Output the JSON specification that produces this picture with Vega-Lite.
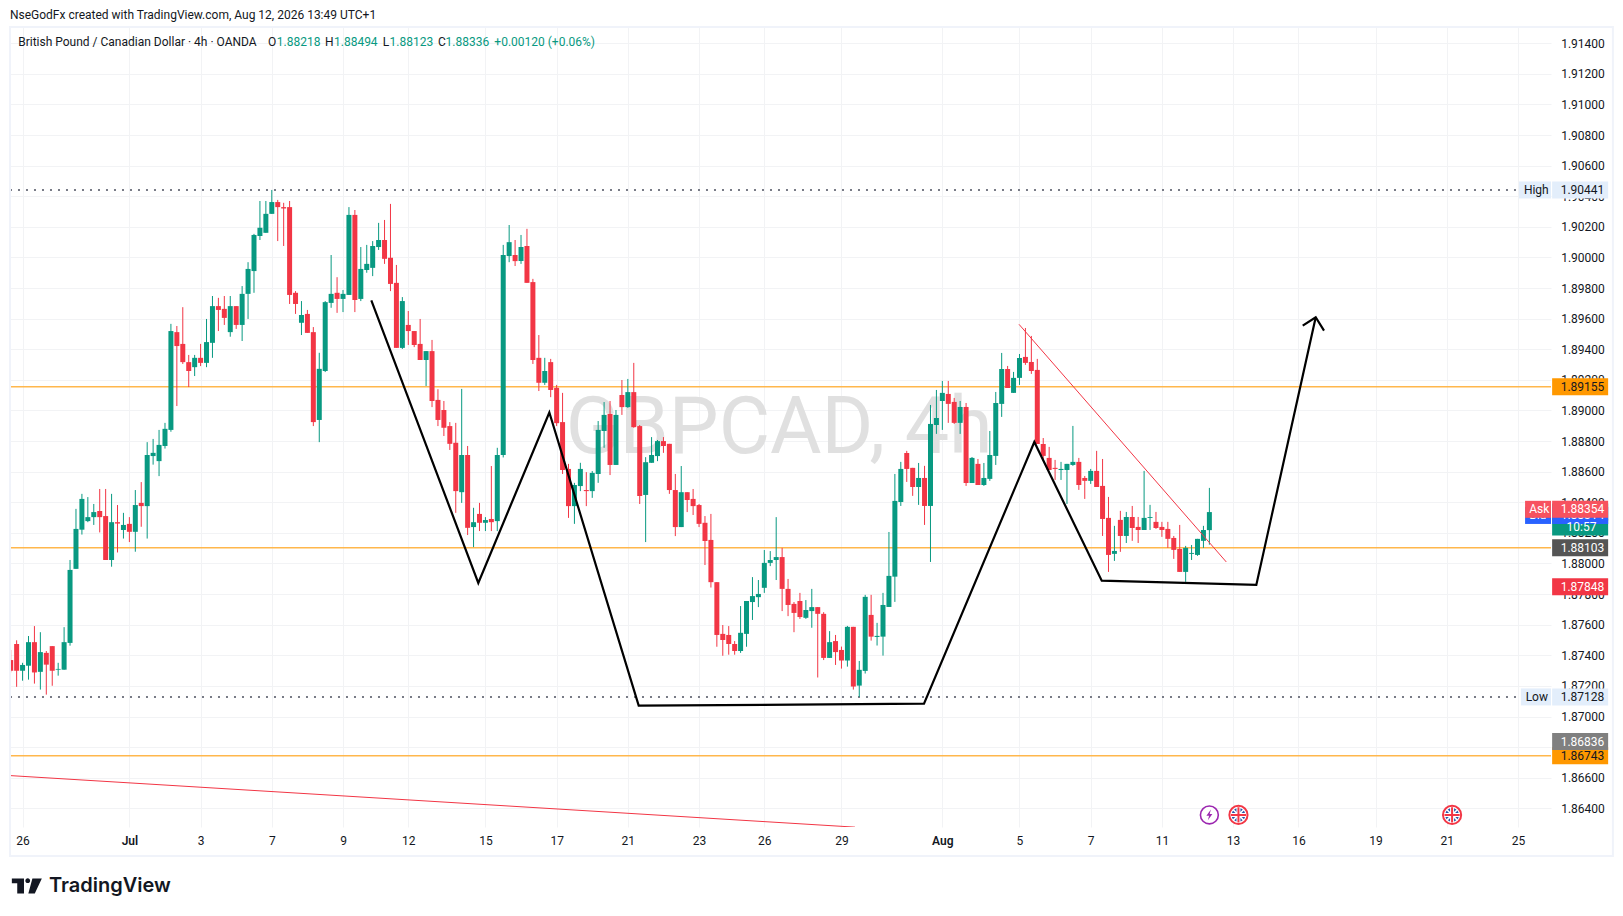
{"$schema":"https://vega.github.io/schema/vega-lite/v6.json","width":1541,"height":800,"autosize":"none","padding":{"left":10,"top":27,"right":72,"bottom":89},"background":"#ffffff","view":{"stroke":null},
"config":{"font":"Roboto","text":{"font":"Roboto"}},
"datasets":{
"candles":[
{"i":1,"o":1.87369,"h":1.87435,"l":1.87288,"c":1.87299},{"i":2,"o":1.87474,"h":1.87498,"l":1.87194,"c":1.87299},{"i":3,"o":1.87299,"h":1.87351,"l":1.87234,"c":1.87337},{"i":4,"o":1.87332,"h":1.87526,"l":1.87241,"c":1.87486},{"i":5,"o":1.87486,"h":1.87591,"l":1.87215,"c":1.87288},{"i":6,"o":1.87292,"h":1.87551,"l":1.87176,"c":1.87421},{"i":7,"o":1.87416,"h":1.87428,"l":1.87143,"c":1.87339},{"i":8,"o":1.8746,"h":1.8746,"l":1.87201,"c":1.87299},{"i":9,"o":1.87306,"h":1.87351,"l":1.87267,"c":1.87311},{"i":10,"o":1.87306,"h":1.87584,"l":1.87306,"c":1.87486},
{"i":11,"o":1.87481,"h":1.88023,"l":1.87463,"c":1.87958},{"i":12,"o":1.87965,"h":1.88357,"l":1.87965,"c":1.88226},{"i":13,"o":1.88221,"h":1.88455,"l":1.88189,"c":1.88422},{"i":14,"o":1.88277,"h":1.88434,"l":1.8827,"c":1.88303},{"i":15,"o":1.88303,"h":1.88389,"l":1.88252,"c":1.88336},{"i":16,"o":1.88343,"h":1.88487,"l":1.88203,"c":1.88303},{"i":17,"o":1.8831,"h":1.88487,"l":1.88023,"c":1.88023},{"i":18,"o":1.88023,"h":1.88455,"l":1.87979,"c":1.8827},{"i":19,"o":1.8827,"h":1.88382,"l":1.88072,"c":1.88261},{"i":20,"o":1.88219,"h":1.88331,"l":1.88163,"c":1.88252},
{"i":21,"o":1.88259,"h":1.88303,"l":1.8814,"c":1.88207},{"i":22,"o":1.88207,"h":1.8848,"l":1.88077,"c":1.88382},{"i":23,"o":1.88396,"h":1.88532,"l":1.8824,"c":1.88375},{"i":24,"o":1.88375,"h":1.88793,"l":1.88163,"c":1.88709},{"i":25,"o":1.88702,"h":1.88814,"l":1.88646,"c":1.88723},{"i":26,"o":1.88669,"h":1.88873,"l":1.88571,"c":1.88775},{"i":27,"o":1.88768,"h":1.88919,"l":1.88751,"c":1.8888},{"i":28,"o":1.88873,"h":1.89566,"l":1.88861,"c":1.89519},{"i":29,"o":1.89512,"h":1.89552,"l":1.89029,"c":1.89421},{"i":30,"o":1.89435,"h":1.89675,"l":1.89304,"c":1.89316},
{"i":31,"o":1.89316,"h":1.89363,"l":1.89153,"c":1.89258},{"i":32,"o":1.89283,"h":1.89363,"l":1.89225,"c":1.89344},{"i":33,"o":1.89344,"h":1.89435,"l":1.8929,"c":1.89311},{"i":34,"o":1.89311,"h":1.89598,"l":1.89283,"c":1.89447},{"i":35,"o":1.89442,"h":1.89748,"l":1.89344,"c":1.89682},{"i":36,"o":1.89682,"h":1.89736,"l":1.89519,"c":1.89657},{"i":37,"o":1.89664,"h":1.89748,"l":1.89559,"c":1.89605},{"i":38,"o":1.89512,"h":1.89748,"l":1.89482,"c":1.89682},{"i":39,"o":1.89682,"h":1.89682,"l":1.89533,"c":1.89559},{"i":40,"o":1.89559,"h":1.89813,"l":1.89454,"c":1.89762},
{"i":41,"o":1.89762,"h":1.89969,"l":1.89598,"c":1.89925},{"i":42,"o":1.89911,"h":1.90154,"l":1.89769,"c":1.90147},{"i":43,"o":1.9014,"h":1.90369,"l":1.90114,"c":1.90194},{"i":44,"o":1.90161,"h":1.90369,"l":1.90161,"c":1.90285},{"i":45,"o":1.90285,"h":1.90441,"l":1.90285,"c":1.90362},{"i":46,"o":1.90362,"h":1.90376,"l":1.90107,"c":1.90329},{"i":47,"o":1.90329,"h":1.90357,"l":1.90075,"c":1.9032},{"i":48,"o":1.90329,"h":1.90369,"l":1.89696,"c":1.89755},{"i":49,"o":1.89769,"h":1.8978,"l":1.89631,"c":1.89696},{"i":50,"o":1.89573,"h":1.89715,"l":1.89493,"c":1.89624},
{"i":51,"o":1.89631,"h":1.89657,"l":1.89507,"c":1.89507},{"i":52,"o":1.89512,"h":1.89545,"l":1.88898,"c":1.88924},{"i":53,"o":1.88938,"h":1.89377,"l":1.88793,"c":1.89272},{"i":54,"o":1.89258,"h":1.89715,"l":1.89251,"c":1.89708},{"i":55,"o":1.89703,"h":1.90016,"l":1.89671,"c":1.89762},{"i":56,"o":1.89769,"h":1.89871,"l":1.89638,"c":1.89729},{"i":57,"o":1.89729,"h":1.89787,"l":1.89643,"c":1.89762},{"i":58,"o":1.89755,"h":1.90329,"l":1.89755,"c":1.90278},{"i":59,"o":1.90278,"h":1.9031,"l":1.89643,"c":1.89722},{"i":60,"o":1.89729,"h":1.90068,"l":1.89715,"c":1.89925},
{"i":61,"o":1.89918,"h":1.90082,"l":1.899,"c":1.89958},{"i":62,"o":1.89932,"h":1.90107,"l":1.89878,"c":1.90075},{"i":63,"o":1.90068,"h":1.90226,"l":1.90049,"c":1.90114},{"i":64,"o":1.90114,"h":1.90245,"l":1.89958,"c":1.89991},{"i":65,"o":1.89998,"h":1.9035,"l":1.8978,"c":1.89827},{"i":66,"o":1.89834,"h":1.89951,"l":1.89409,"c":1.89409},{"i":67,"o":1.89409,"h":1.89741,"l":1.89402,"c":1.89715},{"i":68,"o":1.89559,"h":1.8965,"l":1.89428,"c":1.89519},{"i":69,"o":1.89519,"h":1.89519,"l":1.89414,"c":1.89428},{"i":70,"o":1.89435,"h":1.89598,"l":1.8933,"c":1.8933},
{"i":71,"o":1.8933,"h":1.89388,"l":1.8916,"c":1.89388},{"i":72,"o":1.89388,"h":1.89461,"l":1.89022,"c":1.89062},{"i":73,"o":1.89069,"h":1.89139,"l":1.88898,"c":1.88938},{"i":74,"o":1.89003,"h":1.89062,"l":1.88833,"c":1.88887},{"i":75,"o":1.88898,"h":1.88924,"l":1.88742,"c":1.88782},{"i":76,"o":1.88789,"h":1.88919,"l":1.88331,"c":1.88473},{"i":77,"o":1.88466,"h":1.89141,"l":1.88396,"c":1.88709},{"i":78,"o":1.88709,"h":1.88768,"l":1.88186,"c":1.88233},{"i":79,"o":1.88238,"h":1.88364,"l":1.88107,"c":1.8827},{"i":80,"o":1.88324,"h":1.88396,"l":1.88212,"c":1.88266},
{"i":81,"o":1.88266,"h":1.88303,"l":1.88212,"c":1.88284},{"i":82,"o":1.88291,"h":1.88637,"l":1.88212,"c":1.8827},{"i":83,"o":1.88277,"h":1.88756,"l":1.88212,"c":1.88709},{"i":84,"o":1.88709,"h":1.90082,"l":1.88693,"c":1.90016},{"i":85,"o":1.90009,"h":1.90212,"l":1.89969,"c":1.901},{"i":86,"o":1.90016,"h":1.90114,"l":1.89944,"c":1.89976},{"i":87,"o":1.89976,"h":1.90147,"l":1.89958,"c":1.90068},{"i":88,"o":1.90075,"h":1.90187,"l":1.89834,"c":1.89834},{"i":89,"o":1.89839,"h":1.8986,"l":1.89304,"c":1.8933},{"i":90,"o":1.89344,"h":1.89493,"l":1.89127,"c":1.89181},
{"i":91,"o":1.89181,"h":1.89344,"l":1.89167,"c":1.89258},{"i":92,"o":1.89316,"h":1.89337,"l":1.89087,"c":1.89134},{"i":93,"o":1.89148,"h":1.89167,"l":1.88898,"c":1.88917},{"i":94,"o":1.88924,"h":1.89115,"l":1.88585,"c":1.88611},{"i":95,"o":1.88618,"h":1.88651,"l":1.88298,"c":1.88375},{"i":96,"o":1.88375,"h":1.88527,"l":1.88259,"c":1.88513},{"i":97,"o":1.88506,"h":1.88658,"l":1.88473,"c":1.88618},{"i":98,"o":1.8848,"h":1.88597,"l":1.88375,"c":1.88473},{"i":99,"o":1.88473,"h":1.88604,"l":1.88429,"c":1.88592},{"i":100,"o":1.88585,"h":1.88931,"l":1.88527,"c":1.88873},
{"i":101,"o":1.88866,"h":1.89055,"l":1.88756,"c":1.88971},{"i":102,"o":1.88978,"h":1.89062,"l":1.88578,"c":1.88644},{"i":103,"o":1.88644,"h":1.89003,"l":1.88644,"c":1.88971},{"i":104,"o":1.89101,"h":1.89199,"l":1.88971,"c":1.89022},{"i":105,"o":1.89022,"h":1.89206,"l":1.89017,"c":1.8912},{"i":106,"o":1.8912,"h":1.89311,"l":1.88887,"c":1.88891},{"i":107,"o":1.88898,"h":1.88905,"l":1.88389,"c":1.88441},{"i":108,"o":1.88448,"h":1.88695,"l":1.8814,"c":1.88662},{"i":109,"o":1.88658,"h":1.88826,"l":1.88658,"c":1.88709},{"i":110,"o":1.88702,"h":1.88807,"l":1.88669,"c":1.888},
{"i":111,"o":1.888,"h":1.88826,"l":1.88723,"c":1.88768},{"i":112,"o":1.88782,"h":1.88782,"l":1.88455,"c":1.8848},{"i":113,"o":1.8848,"h":1.88585,"l":1.88179,"c":1.88238},{"i":114,"o":1.88238,"h":1.88637,"l":1.88238,"c":1.88466},{"i":115,"o":1.88466,"h":1.88466,"l":1.88336,"c":1.88415},{"i":116,"o":1.88422,"h":1.88487,"l":1.88317,"c":1.88375},{"i":117,"o":1.88382,"h":1.88389,"l":1.88238,"c":1.88259},{"i":118,"o":1.88266,"h":1.8831,"l":1.8799,"c":1.88147},{"i":119,"o":1.88154,"h":1.88324,"l":1.87843,"c":1.87878},{"i":120,"o":1.87878,"h":1.87878,"l":1.87456,"c":1.87533},
{"i":121,"o":1.8754,"h":1.87598,"l":1.87397,"c":1.875},{"i":122,"o":1.87533,"h":1.87591,"l":1.87404,"c":1.87474},{"i":123,"o":1.87474,"h":1.87493,"l":1.87404,"c":1.87428},{"i":124,"o":1.87428,"h":1.87722,"l":1.87416,"c":1.87547},{"i":125,"o":1.8754,"h":1.87755,"l":1.87456,"c":1.87755},{"i":126,"o":1.87748,"h":1.87911,"l":1.87631,"c":1.87787},{"i":127,"o":1.8778,"h":1.87892,"l":1.87715,"c":1.87801},{"i":128,"o":1.87841,"h":1.88088,"l":1.87808,"c":1.88004},{"i":129,"o":1.88004,"h":1.88081,"l":1.87983,"c":1.88023},{"i":130,"o":1.88023,"h":1.88303,"l":1.87892,"c":1.88042},
{"i":131,"o":1.88042,"h":1.88102,"l":1.87689,"c":1.87834},{"i":132,"o":1.87834,"h":1.87899,"l":1.87656,"c":1.87729},{"i":133,"o":1.87736,"h":1.87748,"l":1.87551,"c":1.87677},{"i":134,"o":1.87755,"h":1.87808,"l":1.87638,"c":1.8765},{"i":135,"o":1.87645,"h":1.87761,"l":1.87638,"c":1.87696},{"i":136,"o":1.87689,"h":1.87834,"l":1.8758,"c":1.87715},{"i":137,"o":1.87715,"h":1.87715,"l":1.87255,"c":1.87671},{"i":138,"o":1.87671,"h":1.87682,"l":1.87369,"c":1.87383},{"i":139,"o":1.87383,"h":1.87558,"l":1.87383,"c":1.87486},{"i":140,"o":1.87493,"h":1.87533,"l":1.87337,"c":1.87421},
{"i":141,"o":1.87435,"h":1.87457,"l":1.87313,"c":1.87366},{"i":142,"o":1.87366,"h":1.87592,"l":1.87326,"c":1.87586},{"i":143,"o":1.87586,"h":1.87586,"l":1.87176,"c":1.87196},{"i":144,"o":1.87202,"h":1.87363,"l":1.87128,"c":1.87305},{"i":145,"o":1.87298,"h":1.87795,"l":1.87281,"c":1.87782},{"i":146,"o":1.87664,"h":1.87795,"l":1.87496,"c":1.87522},{"i":147,"o":1.8752,"h":1.87612,"l":1.87464,"c":1.87527},{"i":148,"o":1.87522,"h":1.87808,"l":1.87398,"c":1.87729},{"i":149,"o":1.87716,"h":1.88206,"l":1.87716,"c":1.87919},{"i":150,"o":1.87914,"h":1.88585,"l":1.87749,"c":1.88409},
{"i":151,"o":1.88402,"h":1.88664,"l":1.88376,"c":1.88618},{"i":152,"o":1.88722,"h":1.88736,"l":1.88533,"c":1.88618},{"i":153,"o":1.88625,"h":1.88625,"l":1.88442,"c":1.885},{"i":154,"o":1.885,"h":1.88657,"l":1.88383,"c":1.88559},{"i":155,"o":1.88559,"h":1.88638,"l":1.88252,"c":1.88376},{"i":156,"o":1.88376,"h":1.89036,"l":1.8801,"c":1.88912},{"i":157,"o":1.88905,"h":1.89134,"l":1.88847,"c":1.88951},{"i":158,"o":1.89062,"h":1.89193,"l":1.88873,"c":1.89115},{"i":159,"o":1.89108,"h":1.89193,"l":1.88919,"c":1.89043},{"i":160,"o":1.89056,"h":1.89082,"l":1.88912,"c":1.88919},
{"i":161,"o":1.88919,"h":1.89062,"l":1.88847,"c":1.89023},{"i":162,"o":1.89023,"h":1.89049,"l":1.88507,"c":1.88526},{"i":163,"o":1.88526,"h":1.88696,"l":1.88526,"c":1.8869},{"i":164,"o":1.88651,"h":1.88683,"l":1.88513,"c":1.88513},{"i":165,"o":1.88513,"h":1.88657,"l":1.88507,"c":1.88559},{"i":166,"o":1.88553,"h":1.88866,"l":1.8854,"c":1.88709},{"i":167,"o":1.88703,"h":1.89121,"l":1.88644,"c":1.89049},{"i":168,"o":1.89043,"h":1.89376,"l":1.88958,"c":1.89271},{"i":169,"o":1.89271,"h":1.89291,"l":1.89147,"c":1.89147},{"i":170,"o":1.89115,"h":1.89252,"l":1.89115,"c":1.89213},
{"i":171,"o":1.89213,"h":1.89369,"l":1.89167,"c":1.89343},{"i":172,"o":1.8935,"h":1.89539,"l":1.89298,"c":1.89311},{"i":173,"o":1.89317,"h":1.89487,"l":1.89239,"c":1.89258},{"i":174,"o":1.89265,"h":1.89337,"l":1.88781,"c":1.88781},{"i":175,"o":1.88781,"h":1.8882,"l":1.8867,"c":1.88703},{"i":176,"o":1.8869,"h":1.88762,"l":1.88611,"c":1.88611},{"i":177,"o":1.88625,"h":1.88677,"l":1.88546,"c":1.88618},{"i":178,"o":1.88611,"h":1.88664,"l":1.88546,"c":1.88618},{"i":179,"o":1.88611,"h":1.88651,"l":1.88389,"c":1.88651},{"i":180,"o":1.88644,"h":1.88899,"l":1.88638,"c":1.88664},
{"i":181,"o":1.88664,"h":1.8869,"l":1.88481,"c":1.88513},{"i":182,"o":1.88559,"h":1.88572,"l":1.88422,"c":1.8854},{"i":183,"o":1.8854,"h":1.88618,"l":1.8852,"c":1.88605},{"i":184,"o":1.88605,"h":1.88736,"l":1.885,"c":1.885},{"i":185,"o":1.88507,"h":1.88683,"l":1.8818,"c":1.88291},{"i":186,"o":1.88298,"h":1.88435,"l":1.87945,"c":1.88056},{"i":187,"o":1.88063,"h":1.88246,"l":1.88017,"c":1.88082},{"i":188,"o":1.88285,"h":1.88344,"l":1.88076,"c":1.8818},{"i":189,"o":1.8818,"h":1.88337,"l":1.88134,"c":1.88304},{"i":190,"o":1.88304,"h":1.88376,"l":1.88148,"c":1.88232},
{"i":191,"o":1.88239,"h":1.88304,"l":1.88134,"c":1.88219},{"i":192,"o":1.88219,"h":1.88605,"l":1.88219,"c":1.88298},{"i":193,"o":1.88298,"h":1.88383,"l":1.88219,"c":1.88304},{"i":194,"o":1.88272,"h":1.88337,"l":1.88226,"c":1.88232},{"i":195,"o":1.88239,"h":1.88272,"l":1.88174,"c":1.88219},{"i":196,"o":1.88226,"h":1.88272,"l":1.88102,"c":1.88161},{"i":197,"o":1.88167,"h":1.8818,"l":1.8803,"c":1.88089},{"i":198,"o":1.88095,"h":1.88252,"l":1.87945,"c":1.87945},{"i":199,"o":1.87945,"h":1.88115,"l":1.8788,"c":1.88102},{"i":200,"o":1.88063,"h":1.88121,"l":1.88023,"c":1.88069},
{"i":201,"o":1.88056,"h":1.88161,"l":1.8805,"c":1.88161},{"i":202,"o":1.88148,"h":1.88246,"l":1.88102,"c":1.88219},{"i":203,"o":1.88218,"h":1.88494,"l":1.88123,"c":1.88336}],
"drawings":[
{"seg":"pattern","n":0,"i":61.77,"p":1.8972},{"seg":"pattern","n":1,"i":79.8,"p":1.87873},{"seg":"pattern","n":2,"i":91.77,"p":1.88987},{"seg":"pattern","n":3,"i":106.83,"p":1.87071},{"seg":"pattern","n":4,"i":154.91,"p":1.87084},{"seg":"pattern","n":5,"i":173.5,"p":1.88794},{"seg":"pattern","n":6,"i":184.86,"p":1.87888},{"seg":"pattern","n":7,"i":210.91,"p":1.8786},{"seg":"pattern","n":8,"i":220.92,"p":1.89609},
{"seg":"head","n":0,"i":218.73,"p":1.89554},{"seg":"head","n":1,"i":220.92,"p":1.89609},{"seg":"head","n":2,"i":222.32,"p":1.89522}],
"trend":[{"seg":"a","n":0,"i":170.92,"p":1.89563},{"seg":"a","n":1,"i":205.85,"p":1.8801},{"seg":"b","n":0,"i":0.88,"p":1.86614},{"seg":"b","n":1,"i":143.28,"p":1.86277}],
"tags":[
{"kind":"high","label":"High","p":1.90441,"i":255.18,"i2":260.57,"tx":256.0},{"kind":"high","label":"1.90441","p":1.90441,"i":260.76,"i2":270.2,"tx":262.2},
{"kind":"high","label":"Low","p":1.87128,"i":255.5,"i2":260.57,"tx":256.3},{"kind":"high","label":"1.87128","p":1.87128,"i":260.76,"i2":270.2,"tx":262.2},
{"kind":"orange","label":"1.89155","p":1.89155,"i":260.76,"i2":270.2,"tx":262.2},{"kind":"orange","label":"1.86743","p":1.86743,"i":260.76,"i2":270.2,"tx":262.2},
{"kind":"gray","label":"1.86836","p":1.86836,"i":260.76,"i2":270.2,"tx":262.2},{"kind":"dark","label":"1.88103","p":1.88103,"i":260.76,"i2":270.2,"tx":262.2},
{"kind":"red","label":"1.87848","p":1.87848,"i":260.76,"i2":270.2,"tx":262.2},
{"kind":"green","label":"","p":1.88336,"i":260.76,"i2":270.2,"tx":262.2},{"kind":"green","label":"10:57","p":1.88239,"i":260.76,"i2":270.2,"tx":263.2},
{"kind":"bid","label":"1.88314","p":1.88314,"i":260.76,"i2":270.2,"tx":262.2},{"kind":"bid","label":"Bid","p":1.88314,"i":256.2,"i2":260.57,"tx":256.9}],
"asktags":[{"kind":"ask","label":"1.88354","p":1.88354,"i":260.76,"i2":270.2,"tx":262.2},{"kind":"ask","label":"Ask","p":1.88354,"i":256.2,"i2":260.57,"tx":256.9}],
"texts":[
{"label":"NseGodFx created with TradingView.com, Aug 12, 2026 13:49 UTC+1","i":0.87,"p":1.91585,"tone":"ink"},
{"label":"British Pound / Canadian Dollar · 4h · OANDA","i":2.26,"p":1.91408,"tone":"ink"},
{"label":"O","i":44.36,"p":1.91408,"tone":"ink"},{"label":"1.88218","i":45.84,"p":1.91408,"tone":"up"},
{"label":"H","i":53.97,"p":1.91408,"tone":"ink"},{"label":"1.88494","i":55.48,"p":1.91408,"tone":"up"},
{"label":"L","i":63.71,"p":1.91408,"tone":"ink"},{"label":"1.88123","i":64.84,"p":1.91408,"tone":"up"},
{"label":"C","i":73.0,"p":1.91408,"tone":"ink"},{"label":"1.88336","i":74.29,"p":1.91408,"tone":"up"},
{"label":"+0.00120 (+0.06%)","i":82.5,"p":1.91408,"tone":"up"}],
"events":[{"name":"flag","i":207.9,"p":1.86357},{"name":"flag","i":243.9,"p":1.86357}],
"levels":[{"p":1.89155,"i":0.88,"i2":260.57},{"p":1.88103,"i":0.88,"i2":260.57},{"p":1.86743,"i":0.88,"i2":260.57}],
"extremes":[{"p":1.90441,"i":0.88,"i2":254.7},{"p":1.87128,"i":0.88,"i2":254.7}]
},
"encoding":{
"x":{"field":"i","type":"quantitative","title":null,"scale":{"domain":[0.882,260.57],"nice":false,"zero":false,"padding":0},"axis":{"title":null,"orient":"bottom","values":[3,21,33,45,57,68,81,93,105,117,128,141,158,171,183,195,207,218,231,243,255],"labelExpr":"{'3':'26','21':'Jul','33':'3','45':'7','57':'9','68':'12','81':'15','93':'17','105':'21','117':'23','128':'26','141':'29','158':'Aug','171':'5','183':'7','195':'11','207':'13','218':'16','231':'19','243':'21','255':'25'}[datum.value]","domain":false,"ticks":false,"grid":true,"gridColor":"#f2f3f5","gridWidth":1,"labelColor":"#131722","labelFont":"Roboto","labelFontSize":12,"labelPadding":8,"labelOverlap":false,"labelFlush":false,"labelFontWeight":{"condition":{"test":"datum.value==158||datum.value==21","value":600},"value":400}}},
"y":{"field":"p","type":"quantitative","title":null,"scale":{"domain":[1.86278,1.91506],"nice":false,"zero":false},"axis":{"title":null,"orient":"right","values":[1.864,1.866,1.868,1.87,1.872,1.874,1.876,1.878,1.88,1.882,1.884,1.886,1.888,1.89,1.892,1.894,1.896,1.898,1.9,1.902,1.904,1.906,1.908,1.91,1.912,1.914],"format":".5f","domain":false,"ticks":false,"grid":true,"gridColor":"#f2f3f5","gridWidth":1,"labelColor":"#131722","labelFont":"Roboto","labelFontSize":12,"labelPadding":9.7,"labelOverlap":false,"labelFlush":false}}
},
"layer":[
{"data":{"values":[{"label":"GBPCAD, 4h","i":130.5,"p":1.88879}]},"mark":{"type":"text","font":"Roboto","fontSize":79,"color":"#e0e0e0","align":"center","baseline":"middle"},"encoding":{"text":{"field":"label"}}},
{"data":{"name":"levels"},"mark":{"type":"rule","color":"#FFB74D","strokeWidth":1.5},"encoding":{"x2":{"field":"i2"}}},
{"data":{"name":"extremes"},"mark":{"type":"rule","color":"#787B86","strokeWidth":2,"strokeDash":[2,6]},"encoding":{"x2":{"field":"i2"}}},
{"data":{"name":"candles"},"mark":{"type":"rule","strokeWidth":1,"clip":true},"encoding":{"y":{"field":"h","type":"quantitative","title":null},"y2":{"field":"l"},"color":{"condition":{"test":"datum.c>=datum.o","value":"#089981"},"value":"#F23645"}}},
{"data":{"name":"candles"},"mark":{"type":"bar","size":5,"clip":true},"encoding":{"y":{"field":"o","type":"quantitative","title":null},"y2":{"field":"c"},"color":{"condition":{"test":"datum.c>=datum.o","value":"#089981"},"value":"#F23645"}}},
{"data":{"name":"drawings"},"mark":{"type":"line","color":"#000000","strokeWidth":2.2,"strokeJoin":"miter","clip":false},"encoding":{"detail":{"field":"seg"},"order":{"field":"n","type":"quantitative"}}},
{"data":{"name":"trend"},"mark":{"type":"line","color":"#F23645","strokeWidth":1,"clip":true},"encoding":{"detail":{"field":"seg"},"order":{"field":"n","type":"quantitative"}}},
{"data":{"name":"tags"},"mark":{"type":"rule","strokeWidth":17},"encoding":{"x2":{"field":"i2"},"color":{"field":"kind","type":"nominal","legend":null,"scale":{"domain":["high","orange","gray","dark","red","green","bid","ask"],"range":["#E3EEFB","#FF9800","#808080","#555555","#F23645","#089981","#2962FF","#F7525F"]}}}},
{"data":{"name":"tags"},"mark":{"type":"text","font":"Roboto","fontSize":12,"align":"left","baseline":"middle"},"encoding":{"x":{"field":"tx","type":"quantitative","title":null},"text":{"field":"label"},"color":{"condition":{"test":"datum.kind=='high'||datum.kind=='orange'","value":"#131722"},"value":"#ffffff"}}},
{"data":{"name":"asktags"},"mark":{"type":"rule","strokeWidth":17},"encoding":{"x2":{"field":"i2"},"color":{"field":"kind","type":"nominal","legend":null}}},
{"data":{"name":"asktags"},"mark":{"type":"text","font":"Roboto","fontSize":12,"align":"left","baseline":"middle","color":"#ffffff"},"encoding":{"x":{"field":"tx","type":"quantitative","title":null},"text":{"field":"label"}}},
{"data":{"name":"texts"},"mark":{"type":"text","font":"Roboto","fontSize":12,"align":"left","baseline":"middle"},"encoding":{"text":{"field":"label"},"color":{"condition":{"test":"datum.tone=='up'","value":"#089981"},"value":"#131722"}}},
{"data":{"values":[{"label":"TradingView","i":7.45,"p":1.85893}]},"mark":{"type":"text","font":"Inter","fontSize":20,"fontWeight":600,"align":"left","baseline":"middle","color":"#131722"},"encoding":{"text":{"field":"label"}}},
{"data":{"values":[{"name":"logo","i":3.72,"p":1.85893}]},"mark":{"type":"point","filled":true,"size":900,"opacity":1,"color":"#131722","shape":"M-1,-0.5H-0.19V0.5H-0.64V-0.17H-1ZM-0.1,-0.35a0.16,0.16 0 1,0 0.32,0a0.16,0.16 0 1,0 -0.32,0ZM0.37,-0.5H1L0.53,0.5H0.1Z"}},
{"data":{"values":[{"name":"earnings","i":203,"p":1.86357}]},"mark":{"type":"point","filled":true,"size":320,"opacity":1,"fill":"#ffffff","stroke":"#9C27B0","strokeWidth":1.6,"shape":"circle"}},
{"data":{"values":[{"name":"earnings","i":203,"p":1.86357}]},"mark":{"type":"point","filled":true,"size":144,"opacity":1,"color":"#9C27B0","shape":"M0.25,-0.9L-0.5,0.15H-0.05L-0.25,0.9L0.5,-0.15H0.05Z"}},
{"data":{"name":"events"},"mark":{"type":"point","filled":true,"size":330,"opacity":1,"fill":"#ffffff","stroke":"#F23645","strokeWidth":2,"shape":"circle"}},
{"data":{"name":"events"},"mark":{"type":"point","filled":true,"size":190,"opacity":1,"color":"#2656A8","shape":"circle"}},
{"data":{"name":"events"},"mark":{"type":"point","filled":false,"size":256,"opacity":1,"color":"#ffffff","strokeWidth":1.6,"shape":"M-0.65,-0.65L0.65,0.65M-0.65,0.65L0.65,-0.65"}},
{"data":{"name":"events"},"mark":{"type":"point","filled":false,"size":256,"opacity":1,"color":"#ffffff","strokeWidth":4,"shape":"M-0.95,0H0.95M0,-0.95V0.95"}},
{"data":{"name":"events"},"mark":{"type":"point","filled":false,"size":256,"opacity":1,"color":"#F23645","strokeWidth":2,"shape":"M-0.95,0H0.95M0,-0.95V0.95"}},
{"data":{"values":[{"i":0.88,"i2":271,"p":1.91506,"p2":1.86089}]},"mark":{"type":"rect","fillOpacity":0,"stroke":"#f0f3fa","strokeWidth":2,"clip":false},"encoding":{"x2":{"field":"i2"},"y2":{"field":"p2"}}}
]}
